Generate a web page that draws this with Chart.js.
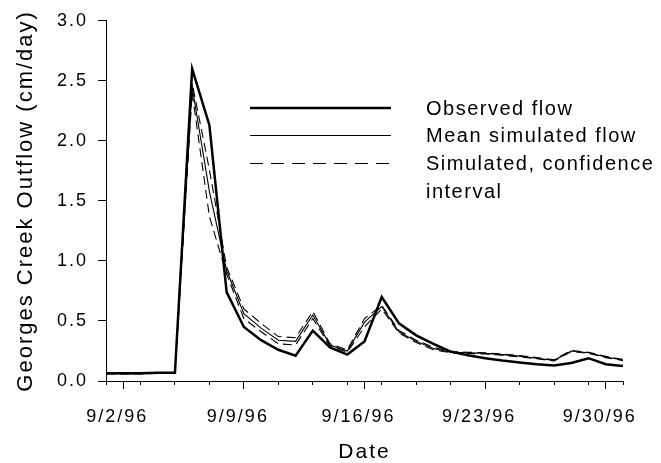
<!DOCTYPE html>
<html>
<head>
<meta charset="utf-8">
<script src="https://cdn.jsdelivr.net/npm/chart.js@4.4.1/dist/chart.umd.min.js"></script>
<style>
  html, body { margin: 0; padding: 0; background: #fff; }
  #wrap { width: 661px; height: 463px; }
</style>
</head>
<body>
<div id="wrap"><canvas id="chart"></canvas></div>
<script>
// daily outflow, 9/1/96 - 10/1/96 (cm/day)
var dates = ['9/1/96', '9/2/96', '9/3/96', '9/4/96', '9/5/96', '9/6/96', '9/7/96', '9/8/96',
             '9/9/96', '9/10/96', '9/11/96', '9/12/96', '9/13/96', '9/14/96', '9/15/96', '9/16/96',
             '9/17/96', '9/18/96', '9/19/96', '9/20/96', '9/21/96', '9/22/96', '9/23/96', '9/24/96',
             '9/25/96', '9/26/96', '9/27/96', '9/28/96', '9/29/96', '9/30/96', '10/1/96'];

var observed = [0.065, 0.065, 0.065, 0.068, 0.068, 2.60, 2.13, 0.74,
                0.45, 0.34, 0.26, 0.21, 0.42, 0.28, 0.22, 0.33,
                0.70, 0.48, 0.38, 0.31, 0.245, 0.215, 0.19, 0.17,
                0.155, 0.14, 0.13, 0.15, 0.19, 0.14, 0.125];

var meanSim = [0.06, 0.06, 0.06, 0.065, 0.065, 2.45, 1.58, 0.92,
               0.56, 0.44, 0.34, 0.33, 0.55, 0.30, 0.25, 0.49,
               0.62, 0.41, 0.33, 0.27, 0.24, 0.235, 0.23, 0.22,
               0.207, 0.19, 0.172, 0.25, 0.235, 0.20, 0.175];

var upperSim = [0.062, 0.062, 0.062, 0.067, 0.067, 2.48, 1.76, 0.95,
                0.60, 0.48, 0.37, 0.36, 0.58, 0.31, 0.26, 0.52,
                0.63, 0.42, 0.34, 0.28, 0.245, 0.24, 0.235, 0.225,
                0.212, 0.195, 0.177, 0.255, 0.24, 0.205, 0.18];

var lowerSim = [0.058, 0.058, 0.058, 0.063, 0.063, 2.40, 1.37, 0.89,
                0.52, 0.41, 0.31, 0.30, 0.52, 0.29, 0.24, 0.45,
                0.60, 0.40, 0.32, 0.26, 0.235, 0.23, 0.225, 0.215,
                0.20, 0.185, 0.167, 0.245, 0.23, 0.195, 0.17];

var majorTicks = ['9/2/96', '9/9/96', '9/16/96', '9/23/96', '9/30/96'];
var minorTicks = ['9/1/96', '9/3/96', '9/5/96', '9/7/96', '9/9/96', '9/11/96', '9/13/96', '9/15/96',
                  '9/17/96', '9/19/96', '9/21/96', '9/23/96', '9/25/96', '9/27/96', '9/29/96', '10/1/96'];
var yTicks = [0, 0.5, 1.0, 1.5, 2.0, 2.5, 3.0];

var legendNames = ['Observed flow', 'Mean simulated flow', ['Simulated, confidence', 'interval']];

var fontFamily = '"Liberation Sans", Arial, sans-serif';
var start = Date.UTC(1996, 8, 1);

// days since 9/1/96
function dayNum(s) {
    var p = s.split('/');
    return (Date.UTC(1900 + +p[2], p[0] - 1, +p[1]) - start) / 86400000;
}

function dayLabel(n) {
    var d = new Date(start + n * 86400000);
    return (d.getUTCMonth() + 1) + '/' + d.getUTCDate() + '/96';
}

function toPoints(vals) {
    return vals.map(function(v, i) { return {x: dayNum(dates[i]), y: v}; });
}

// titles are drawn before the datasets, tick labels after (ticks.z = 1)
var spacingPlugin = {
    id: 'spacing',
    beforeDraw: function(chart) { chart.ctx.letterSpacing = '2px'; },
    afterDatasetsDraw: function(chart) { chart.ctx.letterSpacing = '2px'; }
};

var legendPlugin = {
    id: 'flowLegend',
    afterDraw: function(chart) {
        var ctx = chart.ctx;
        var x0 = 250, x1 = 391, tx = 426;
        var rows = [108, 135.5, 163.5];
        var row = 27.5;
        var styles = [
            {width: 2.5, dash: []},
            {width: 1, dash: []},
            {width: 1, dash: [13, 8]}
        ];
        ctx.save();
        ctx.font = '20px ' + fontFamily;
        ctx.letterSpacing = '1.5px';
        ctx.textBaseline = 'middle';
        ctx.textAlign = 'left';
        ctx.fillStyle = '#000';
        ctx.strokeStyle = '#000';
        for (var i = 0; i < legendNames.length; i++) {
            var y = rows[i];
            ctx.beginPath();
            ctx.lineWidth = styles[i].width;
            ctx.setLineDash(styles[i].dash);
            ctx.moveTo(x0, y);
            ctx.lineTo(x1, y);
            ctx.stroke();
            var lines = [].concat(legendNames[i]);
            for (var j = 0; j < lines.length; j++) {
                ctx.fillText(lines[j], tx, y + 1 + j * row);
            }
        }
        ctx.restore();
    }
};

var chart = new Chart(document.getElementById('chart'), {
    type: 'line',
    data: {
        datasets: [
            {label: legendNames[0], data: toPoints(observed), borderColor: '#000', borderWidth: 2.5},
            {label: legendNames[1], data: toPoints(meanSim), borderColor: '#000', borderWidth: 1.1},
            {label: 'upper', data: toPoints(upperSim), borderColor: '#000', borderWidth: 1.1, borderDash: [9, 5]},
            {label: 'lower', data: toPoints(lowerSim), borderColor: '#000', borderWidth: 1.1, borderDash: [9, 5]}
        ]
    },
    options: {
        responsive: true,
        maintainAspectRatio: false,
        animation: false,
        devicePixelRatio: 1,
        layout: {padding: {left: 0, right: 38, top: 20, bottom: 0}},
        elements: {
            point: {radius: 0},
            line: {tension: 0, fill: false, borderJoinStyle: 'miter'}
        },
        plugins: {
            legend: {display: false},
            tooltip: {enabled: false}
        },
        scales: {
            x: {
                type: 'linear', min: 0, max: 30, weight: 1,
                afterBuildTicks: function(s) {
                    s.ticks = majorTicks.map(function(d) { return {value: dayNum(d)}; });
                },
                afterFit: function(s) { s.height = 82; },
                grid: {drawOnChartArea: false, drawTicks: true, tickLength: 8, tickColor: '#000', tickWidth: 1},
                border: {display: true, color: '#000', width: 1},
                ticks: {
                    z: 1, color: '#000', font: {size: 18, family: fontFamily}, padding: 17, labelOffset: -6,
                    maxRotation: 0, autoSkip: false,
                    callback: function(v) { return dayLabel(v); }
                },
                title: {
                    display: true, text: 'Date', color: '#000',
                    font: {size: 21, family: fontFamily, lineHeight: 1},
                    padding: {top: 0, bottom: 0}
                }
            },
            x2: {
                type: 'linear', min: 0, max: 30, position: 'bottom', weight: 0,
                afterBuildTicks: function(s) {
                    s.ticks = minorTicks.map(function(d) { return {value: dayNum(d)}; });
                },
                afterFit: function(s) { s.height = 0; },
                grid: {drawOnChartArea: false, drawTicks: true, tickLength: 4, tickColor: '#000', tickWidth: 1},
                border: {display: false},
                ticks: {display: false}
            },
            y: {
                min: 0, max: 3,
                afterBuildTicks: function(s) {
                    s.ticks = yTicks.map(function(v) { return {value: v}; });
                },
                afterFit: function(s) { s.width = 106; },
                grid: {drawOnChartArea: false, drawTicks: true, tickLength: 8, tickColor: '#000', tickWidth: 1},
                border: {display: true, color: '#000', width: 1},
                ticks: {
                    z: 1, color: '#000', font: {size: 18, family: fontFamily}, padding: 10,
                    callback: function(v) { return v.toFixed(1); }
                },
                title: {
                    display: true, text: 'Georges Creek Outflow (cm/day)', color: '#000',
                    font: {size: 22, family: fontFamily, lineHeight: 1},
                    padding: {top: 15, bottom: 0}
                }
            }
        }
    },
    plugins: [spacingPlugin, legendPlugin]
});
</script>
</body>
</html>
